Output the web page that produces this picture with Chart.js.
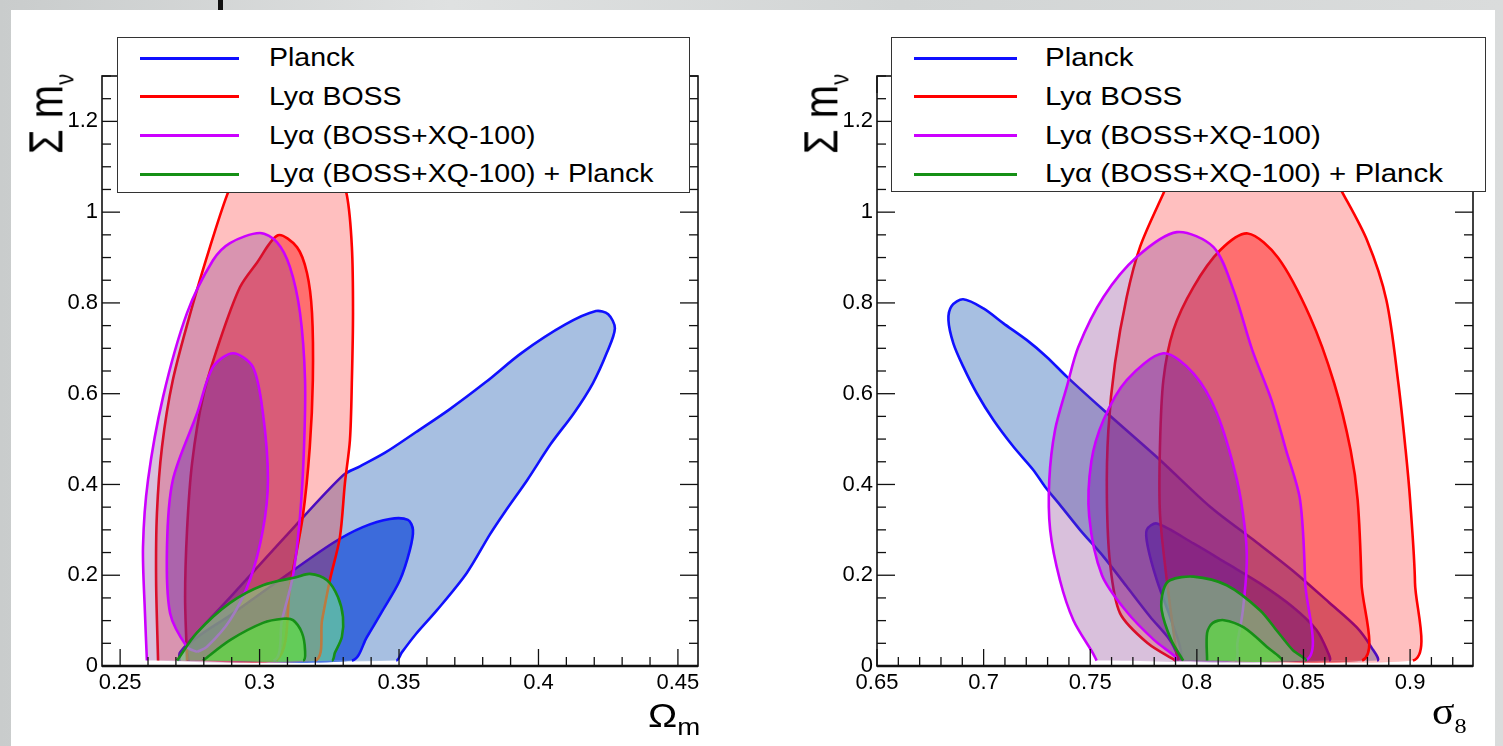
<!DOCTYPE html>
<html>
<head>
<meta charset="utf-8">
<script src="https://cdn.jsdelivr.net/npm/chart.js@4.4.1/dist/chart.umd.min.js"></script>
<style>
html,body{margin:0;padding:0}
body{width:1503px;height:746px;overflow:hidden;position:relative;
  background:linear-gradient(90deg,#c9cccc,#dfe1e1 30%,#d2d5d5 60%,#dadcdc);
  font-family:"Liberation Sans",Arial,Helvetica,sans-serif;color:#000}
#sheet{position:absolute;left:11px;top:10px;width:1484px;height:736px;background:#fff}
#bar{position:absolute;left:218px;top:0;width:5px;height:10px;background:#111}
.cv{position:absolute;top:0;height:746px}
.leg{position:absolute;background:#fff;border:1px solid #333;box-sizing:border-box}
.leg i{position:absolute;height:3px}
.leg span{position:absolute;font-size:25px;line-height:25px;white-space:nowrap;transform-origin:0 50%}
.ttl{position:absolute;white-space:nowrap;line-height:1}
</style>
</head>
<body>
<div id="sheet"></div>
<div id="bar"></div>
<div class="cv" style="left:0;width:751px"><canvas id="omChart"></canvas></div>
<div class="cv" style="left:751px;width:752px"><canvas id="s8Chart"></canvas></div>

<div class="ttl" style="left:50px;top:114px;font-size:40px;transform:translate(-50%,-50%) rotate(-90deg) scaleY(1.2)">&Sigma; m<sub style="font-size:22px">&nu;</sub></div>
<div class="ttl" style="left:825px;top:114px;font-size:40px;transform:translate(-50%,-50%) rotate(-90deg) scaleY(1.2)">&Sigma; m<sub style="font-size:22px">&nu;</sub></div>
<div class="ttl" style="left:648px;top:698px;font-size:34px;transform:scaleX(1.15);transform-origin:0 0">&Omega;<sub style="font-size:24px">m</sub></div>
<div class="ttl" style="left:1432px;top:692px;font-size:38px;font-family:'Liberation Serif','Times New Roman',serif;transform:scaleX(1.1);transform-origin:0 0">&sigma;<sub style="font-size:22px">8</sub></div>

<script>
// legend / series names
const names=["Planck","Lyα BOSS","Lyα (BOSS+XQ-100)","Lyα (BOSS+XQ-100) + Planck"];
const lineCols=["#1010ff","#ff0000","#cc00ff","#169016"];

// tick labels
const omTicks=[0.25,0.3,0.35,0.4,0.45];
const omTickLabels=["0.25","0.3","0.35","0.4","0.45"];
const s8Ticks=[0.65,0.7,0.75,0.8,0.85,0.9];
const s8TickLabels=["0.65","0.7","0.75","0.8","0.85","0.9"];
const mnuTicks=[0,0.2,0.4,0.6,0.8,1,1.2];
const mnuTickLabels=["0","0.2","0.4","0.6","0.8","1","1.2"];

// contours in (Omega_m, sum m_nu)
const omPlanck95=[[0.2712,0.012],[0.2715,0.03],[0.29,0.155],[0.31,0.29],[0.3299,0.42],[0.336,0.44],[0.345,0.47],[0.356,0.515],[0.368,0.565],[0.381,0.625],[0.394,0.69],[0.4095,0.752],[0.4206,0.782],[0.425,0.775],[0.4274,0.744],[0.4245,0.69],[0.4195,0.623],[0.4127,0.557],[0.4045,0.49],[0.396,0.41],[0.388,0.34],[0.3826,0.29],[0.3743,0.205],[0.3636,0.123],[0.356,0.07],[0.351,0.03],[0.349,0.012],[0.2712,0.012]];
const omPlanck68=[[0.2745,0.012],[0.2743,0.046],[0.29,0.114],[0.3073,0.19],[0.3263,0.271],[0.337,0.306],[0.3467,0.324],[0.3532,0.322],[0.355,0.30],[0.3539,0.256],[0.3503,0.189],[0.3442,0.123],[0.3385,0.064],[0.3331,0.012],[0.2745,0.012]];
const omBoss95=[[0.2636,0.012],[0.2629,0.189],[0.2632,0.337],[0.265,0.482],[0.2689,0.63],[0.2758,0.791],[0.2822,0.923],[0.2883,1.037],[0.296,1.15],[0.306,1.22],[0.318,1.22],[0.326,1.15],[0.3313,1.037],[0.3331,0.923],[0.3335,0.778],[0.3331,0.63],[0.3324,0.498],[0.3306,0.403],[0.3288,0.284],[0.3252,0.189],[0.3224,0.101],[0.3198,0.012],[0.2636,0.012]];
const omBoss68=[[0.274,0.012],[0.2733,0.152],[0.274,0.30],[0.2758,0.447],[0.2797,0.593],[0.2858,0.718],[0.293,0.835],[0.299,0.888],[0.3066,0.949],[0.3134,0.923],[0.317,0.866],[0.3188,0.778],[0.3191,0.63],[0.318,0.482],[0.3155,0.33],[0.311,0.18],[0.306,0.012],[0.274,0.012]];
const omXq95=[[0.2596,0.012],[0.2589,0.117],[0.2582,0.262],[0.26,0.41],[0.2654,0.593],[0.274,0.778],[0.2833,0.894],[0.2894,0.932],[0.3001,0.954],[0.3062,0.934],[0.3109,0.879],[0.3145,0.778],[0.3163,0.63],[0.3159,0.476],[0.3145,0.33],[0.312,0.2],[0.308,0.1],[0.305,0.012],[0.2596,0.012]];
const omXq68=[[0.2776,0.031],[0.274,0.042],[0.2679,0.117],[0.2668,0.262],[0.2689,0.41],[0.2776,0.557],[0.2833,0.659],[0.2905,0.689],[0.2976,0.659],[0.3012,0.557],[0.303,0.41],[0.3012,0.30],[0.2965,0.189],[0.2894,0.101],[0.2811,0.042],[0.2776,0.031]];
const omComb95=[[0.2704,0.012],[0.2775,0.073],[0.2894,0.139],[0.3012,0.178],[0.3134,0.196],[0.318,0.203],[0.3242,0.189],[0.3281,0.152],[0.3299,0.108],[0.3295,0.064],[0.327,0.029],[0.3259,0.012],[0.2704,0.012]];
const omComb68=[[0.2797,0.012],[0.2894,0.057],[0.3012,0.095],[0.3084,0.104],[0.312,0.101],[0.3152,0.073],[0.3163,0.035],[0.3156,0.012],[0.2797,0.012]];

// contours in (sigma_8, sum m_nu)
const s8Planck95=[[0.7913,0.012],[0.7913,0.02],[0.7874,0.057],[0.778,0.109],[0.7671,0.175],[0.7562,0.241],[0.7452,0.30],[0.7358,0.355],[0.7288,0.395],[0.7233,0.432],[0.714,0.483],[0.7046,0.542],[0.6968,0.601],[0.6905,0.659],[0.6858,0.711],[0.6835,0.762],[0.685,0.793],[0.6904,0.808],[0.6999,0.788],[0.7093,0.755],[0.7203,0.718],[0.7296,0.681],[0.7391,0.637],[0.7562,0.564],[0.7827,0.454],[0.8062,0.351],[0.8265,0.278],[0.845,0.21],[0.862,0.14],[0.875,0.085],[0.882,0.04],[0.8845,0.012],[0.7913,0.012]];
const s8Planck68=[[0.793,0.012],[0.7921,0.043],[0.7874,0.109],[0.7812,0.19],[0.777,0.263],[0.7765,0.30],[0.7812,0.314],[0.7984,0.27],[0.8141,0.226],[0.8296,0.182],[0.845,0.13],[0.856,0.08],[0.861,0.035],[0.862,0.012],[0.793,0.012]];
const s8Boss95=[[0.79,0.012],[0.777,0.05],[0.764,0.116],[0.7593,0.226],[0.7578,0.373],[0.7585,0.52],[0.7616,0.667],[0.7671,0.813],[0.7734,0.924],[0.7843,1.041],[0.795,1.15],[0.81,1.23],[0.83,1.26],[0.85,1.2],[0.8677,1.048],[0.8798,0.938],[0.8889,0.806],[0.8945,0.623],[0.8979,0.476],[0.90,0.366],[0.9023,0.183],[0.9013,0.012],[0.79,0.012]];
const s8Boss68=[[0.791,0.012],[0.7889,0.08],[0.7859,0.189],[0.7827,0.336],[0.7827,0.483],[0.7843,0.63],[0.789,0.74],[0.7984,0.835],[0.8109,0.916],[0.8239,0.953],[0.838,0.9],[0.8531,0.769],[0.8644,0.623],[0.8721,0.476],[0.8754,0.366],[0.8772,0.183],[0.8775,0.012],[0.791,0.012]];
const s8Xq95=[[0.753,0.012],[0.7513,0.028],[0.7421,0.101],[0.7358,0.189],[0.7312,0.30],[0.7308,0.41],[0.7335,0.52],[0.739,0.615],[0.7444,0.703],[0.7562,0.813],[0.7718,0.901],[0.7906,0.956],[0.8078,0.923],[0.8172,0.828],[0.826,0.696],[0.835,0.586],[0.8418,0.476],[0.8484,0.366],[0.8508,0.183],[0.8508,0.012],[0.753,0.012]];
const s8Xq68=[[0.79,0.012],[0.79,0.02],[0.78,0.057],[0.767,0.12],[0.7555,0.2],[0.7495,0.33],[0.7505,0.45],[0.7562,0.542],[0.7671,0.63],[0.7843,0.689],[0.7984,0.645],[0.8094,0.557],[0.8188,0.41],[0.8226,0.30],[0.8234,0.226],[0.8215,0.12],[0.819,0.05],[0.818,0.012],[0.79,0.012]];
const s8Comb95=[[0.7936,0.012],[0.788,0.057],[0.7835,0.123],[0.7843,0.167],[0.7874,0.189],[0.7984,0.197],[0.814,0.178],[0.8296,0.123],[0.838,0.075],[0.845,0.035],[0.8508,0.012],[0.7936,0.012]];
const s8Comb68=[[0.8048,0.012],[0.8048,0.073],[0.8075,0.095],[0.8127,0.101],[0.822,0.085],[0.8329,0.042],[0.8395,0.012],[0.8048,0.012]];

// fill colours per series: [95%, 68%]
const fills=[["rgba(80,128,196,0.5)","rgba(11,68,216,0.68)"],["rgba(255,0,0,0.25)","rgba(255,0,0,0.42)"],["rgba(128,48,138,0.3)","rgba(104,28,166,0.4)"],["rgba(120,245,130,0.5)","rgba(94,222,66,0.7)"]];

function poly(pts,series,level){
  return {data:pts.map(p=>({x:p[0],y:p[1]})),showLine:true,fill:"shape",tension:0.3,
    borderColor:lineCols[series],backgroundColor:fills[series][level],borderWidth:2.6,pointRadius:0,
    segment:{borderColor:c=>(c.p0.parsed.y<0.015&&c.p1.parsed.y<0.015)?"rgba(0,0,0,0)":undefined}};
}

const framePlugin={id:"frame",afterDatasetsDraw(chart){
  const {ctx,chartArea:a,scales:{x,y}}=chart,o=chart.options.plugins.frame;
  ctx.save();ctx.strokeStyle="#111";
  const seg=(x0,y0,x1,y1)=>{ctx.beginPath();ctx.moveTo(x0,y0);ctx.lineTo(x1,y1);ctx.stroke()};
  ctx.lineWidth=1.3;
  for(let k=Math.ceil(x.min/o.xMinor-1e-6);k*o.xMinor<=x.max+1e-9;k++){
    const px=x.getPixelForValue(k*o.xMinor),len=k%o.xEvery===0?17:9;
    seg(px,a.bottom,px,a.bottom-len);seg(px,a.top,px,a.top+len);
  }
  for(let k=Math.ceil(y.min/o.yMinor-1e-6);k*o.yMinor<=y.max+1e-9;k++){
    const py=y.getPixelForValue(k*o.yMinor),len=k%o.yEvery===0?18:9;
    seg(a.left,py,a.left+len,py);seg(a.right,py,a.right-len,py);
  }
  ctx.lineWidth=1.6;ctx.strokeRect(a.left,a.top,a.right-a.left,a.bottom-a.top);
  ctx.lineWidth=2.6;seg(a.left,a.bottom,a.right,a.bottom);
  ctx.restore();
}};

function makeChart(id,sets,xr,xt,xl,yAxisW,padRight){
  const ds=[];
  sets.forEach((s,i)=>{ds.push(poly(s[0],i,0));ds.push(poly(s[1],i,1))});
  ds.reverse(); // first dataset is drawn on top in Chart.js
  const font={family:'"Liberation Sans",Arial,sans-serif',size:22};
  return new Chart(document.getElementById(id),{type:"scatter",data:{datasets:ds},options:{
    responsive:true,maintainAspectRatio:false,animation:false,
    layout:{padding:{left:0,top:76,right:padRight,bottom:0}},
    plugins:{legend:{display:false},tooltip:{enabled:false},
      frame:{xMinor:0.01,xEvery:5,yMinor:0.05,yEvery:4}},
    scales:{
      x:{type:"linear",min:xr[0],max:xr[1],grid:{display:false,drawTicks:false},border:{display:false},
        afterBuildTicks:s=>{s.ticks=xt.map(v=>({value:v}))},afterFit:s=>{s.height=80},
        ticks:{padding:4,color:"#000",font,maxRotation:0,autoSkip:false,callback:(v,i)=>xl[i]}},
      y:{type:"linear",min:0,max:1.3,grid:{display:false,drawTicks:false},border:{display:false},
        afterBuildTicks:s=>{s.ticks=mnuTicks.map(v=>({value:v}))},afterFit:s=>{s.width=yAxisW},
        ticks:{padding:4,color:"#000",font,autoSkip:false,callback:(v,i)=>mnuTickLabels[i]}}
    }},plugins:[framePlugin]});
}

makeChart("omChart",[[omPlanck95,omPlanck68],[omBoss95,omBoss68],[omXq95,omXq68],[omComb95,omComb68]],[0.2435,0.4572],omTicks,omTickLabels,102,53);
makeChart("s8Chart",[[s8Planck95,s8Planck68],[s8Boss95,s8Boss68],[s8Xq95,s8Xq68],[s8Comb95,s8Comb68]],[0.65,0.9295],s8Ticks,s8TickLabels,126,30);

// legends
function legend(left,width,height,lineX,lineW,textX,stretch){
  const box=document.createElement("div");box.className="leg";
  Object.assign(box.style,{left:left+"px",top:"37px",width:width+"px",height:height+"px"});
  names.forEach((n,i)=>{
    const cy=20+i*38.8;
    const l=document.createElement("i");
    Object.assign(l.style,{left:lineX+"px",width:lineW+"px",top:(cy-1.5)+"px",background:lineCols[i]});
    const t=document.createElement("span");t.textContent=n;
    Object.assign(t.style,{left:textX+"px",top:(cy-13)+"px",transform:"scaleX("+stretch+")"});
    box.appendChild(l);box.appendChild(t);
  });
  document.body.appendChild(box);
}
legend(117,573,156,22,99,151,1.14);
legend(891,595,155,22,103,153,1.18);
</script>
</body>
</html>
